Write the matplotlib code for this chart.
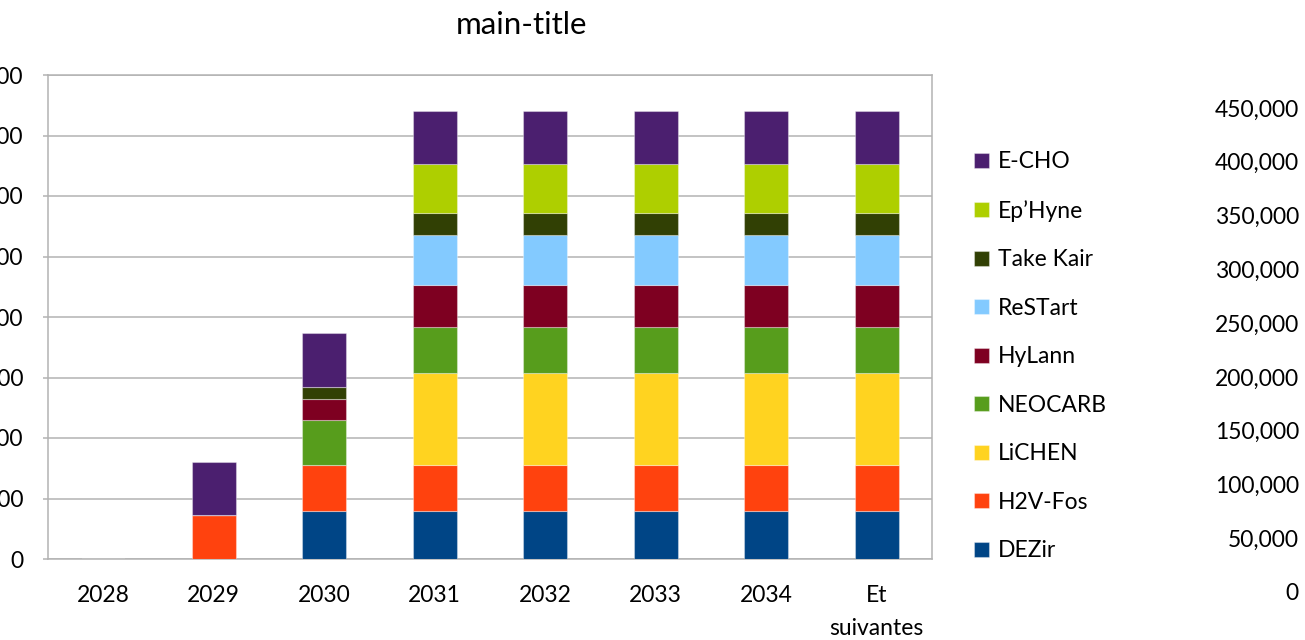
import numpy as np
import matplotlib
matplotlib.use("Agg")
import matplotlib.pyplot as plt

plt.rcParams['font.family'] = ['Lato', 'DejaVu Sans']

# Data
categories = ['2028', '2029', '2030', '2031', '2032', '2033', '2034', 'Et\nsuivantes']
series_names = ['DEZir', 'H2V-Fos', 'LiCHEN', 'NEOCARB', 'HyLann',
                'ReSTart', 'Take Kair', 'Ep\u2019Hyne', 'E-CHO']
dezir = [0, 0, 80, 80, 80, 80, 80, 80]
h2v_fos = [0, 73, 75, 75, 75, 75, 75, 75]
lichen = [0, 0, 0, 153, 153, 153, 153, 153]
neocarb = [0, 0, 75, 75, 75, 75, 75, 75]
hylann = [0, 0, 35, 70, 70, 70, 70, 70]
restart = [0, 0, 0, 82, 82, 82, 82, 82]
take_kair = [0, 0, 20, 37, 37, 37, 37, 37]
ephyne = [0, 0, 0, 81, 81, 81, 81, 81]
echo = [0, 88, 88, 88, 88, 88, 88, 88]
left_ticks = [0, 100, 200, 300, 400, 500, 600, 700, 800]
right_ticks = [0, 50000, 100000, 150000, 200000, 250000, 300000, 350000, 400000, 450000]

colors = ['#004586', '#ff420e', '#ffd320', '#579d1c', '#7e0021',
          '#83caff', '#314004', '#aecf00', '#4b1f6f']
grid_col = '#b3b3b3'
fs = 16.5

W, H = 1305, 640
fig = plt.figure(figsize=(W / 100, H / 100), dpi=100)

# main plot area (pixel box 48..932, 75..559)
ax = fig.add_axes([48 / W, (H - 559) / H, 884 / W, 484 / H])
x = np.arange(len(categories))
bottom = np.zeros(len(categories))
handles = []
for name, vals, col in zip(series_names,
                           [dezir, h2v_fos, lichen, neocarb, hylann, restart, take_kair, ephyne, echo],
                           colors):
    b = ax.bar(x, vals, width=0.4, bottom=bottom, color=col,
               edgecolor=(1, 1, 1, 0.35), linewidth=0.8, label=name, zorder=3)
    handles.append(b)
    bottom += np.array(vals)

ax.set_xlim(-0.5, len(categories) - 0.5)
ax.set_ylim(0, 800)
ax.set_yticks(left_ticks)
ax.set_yticklabels([str(v) for v in left_ticks])
ax.set_xticks(x)
ax.set_xticklabels(categories, fontsize=fs, linespacing=1.75)
ax.tick_params(axis='x', length=0, pad=18.5)
ax.tick_params(axis='y', length=3.6, width=1.1, color=grid_col, pad=14, labelsize=fs)
ax.yaxis.grid(True, color=grid_col, linewidth=1.1, zorder=0)
for s in ax.spines.values():
    s.set_color(grid_col)
    s.set_linewidth(1.1)

# secondary value scale on the right
axr = fig.add_axes([1196 / W, (H - 592) / H, 98 / W, 484 / H])
axr.set_ylim(0, 450000)
axr.set_yticks(right_ticks)
axr.set_yticklabels([f'{v:,}' for v in right_ticks])
axr.tick_params(axis='y', left=False, labelleft=False, right=False,
                labelright=True, pad=0, labelsize=fs)
for lbl in axr.get_yticklabels():
    lbl.set_ha('right')
axr.set_xticks([])
for s in axr.spines.values():
    s.set_visible(False)
axr.patch.set_alpha(0)

fig.text(522 / W, (H - 25) / H, 'main-title', ha='center', va='center', fontsize=22.5)

fig.legend(handles[::-1], series_names[::-1], loc='upper left',
           bbox_to_anchor=(963 / W, (H - 140) / H), frameon=False,
           fontsize=fs, handlelength=0.62, handleheight=0.62,
           handletextpad=0.4, labelspacing=1.20, borderpad=0)

fig.savefig('out.png', dpi=100)
